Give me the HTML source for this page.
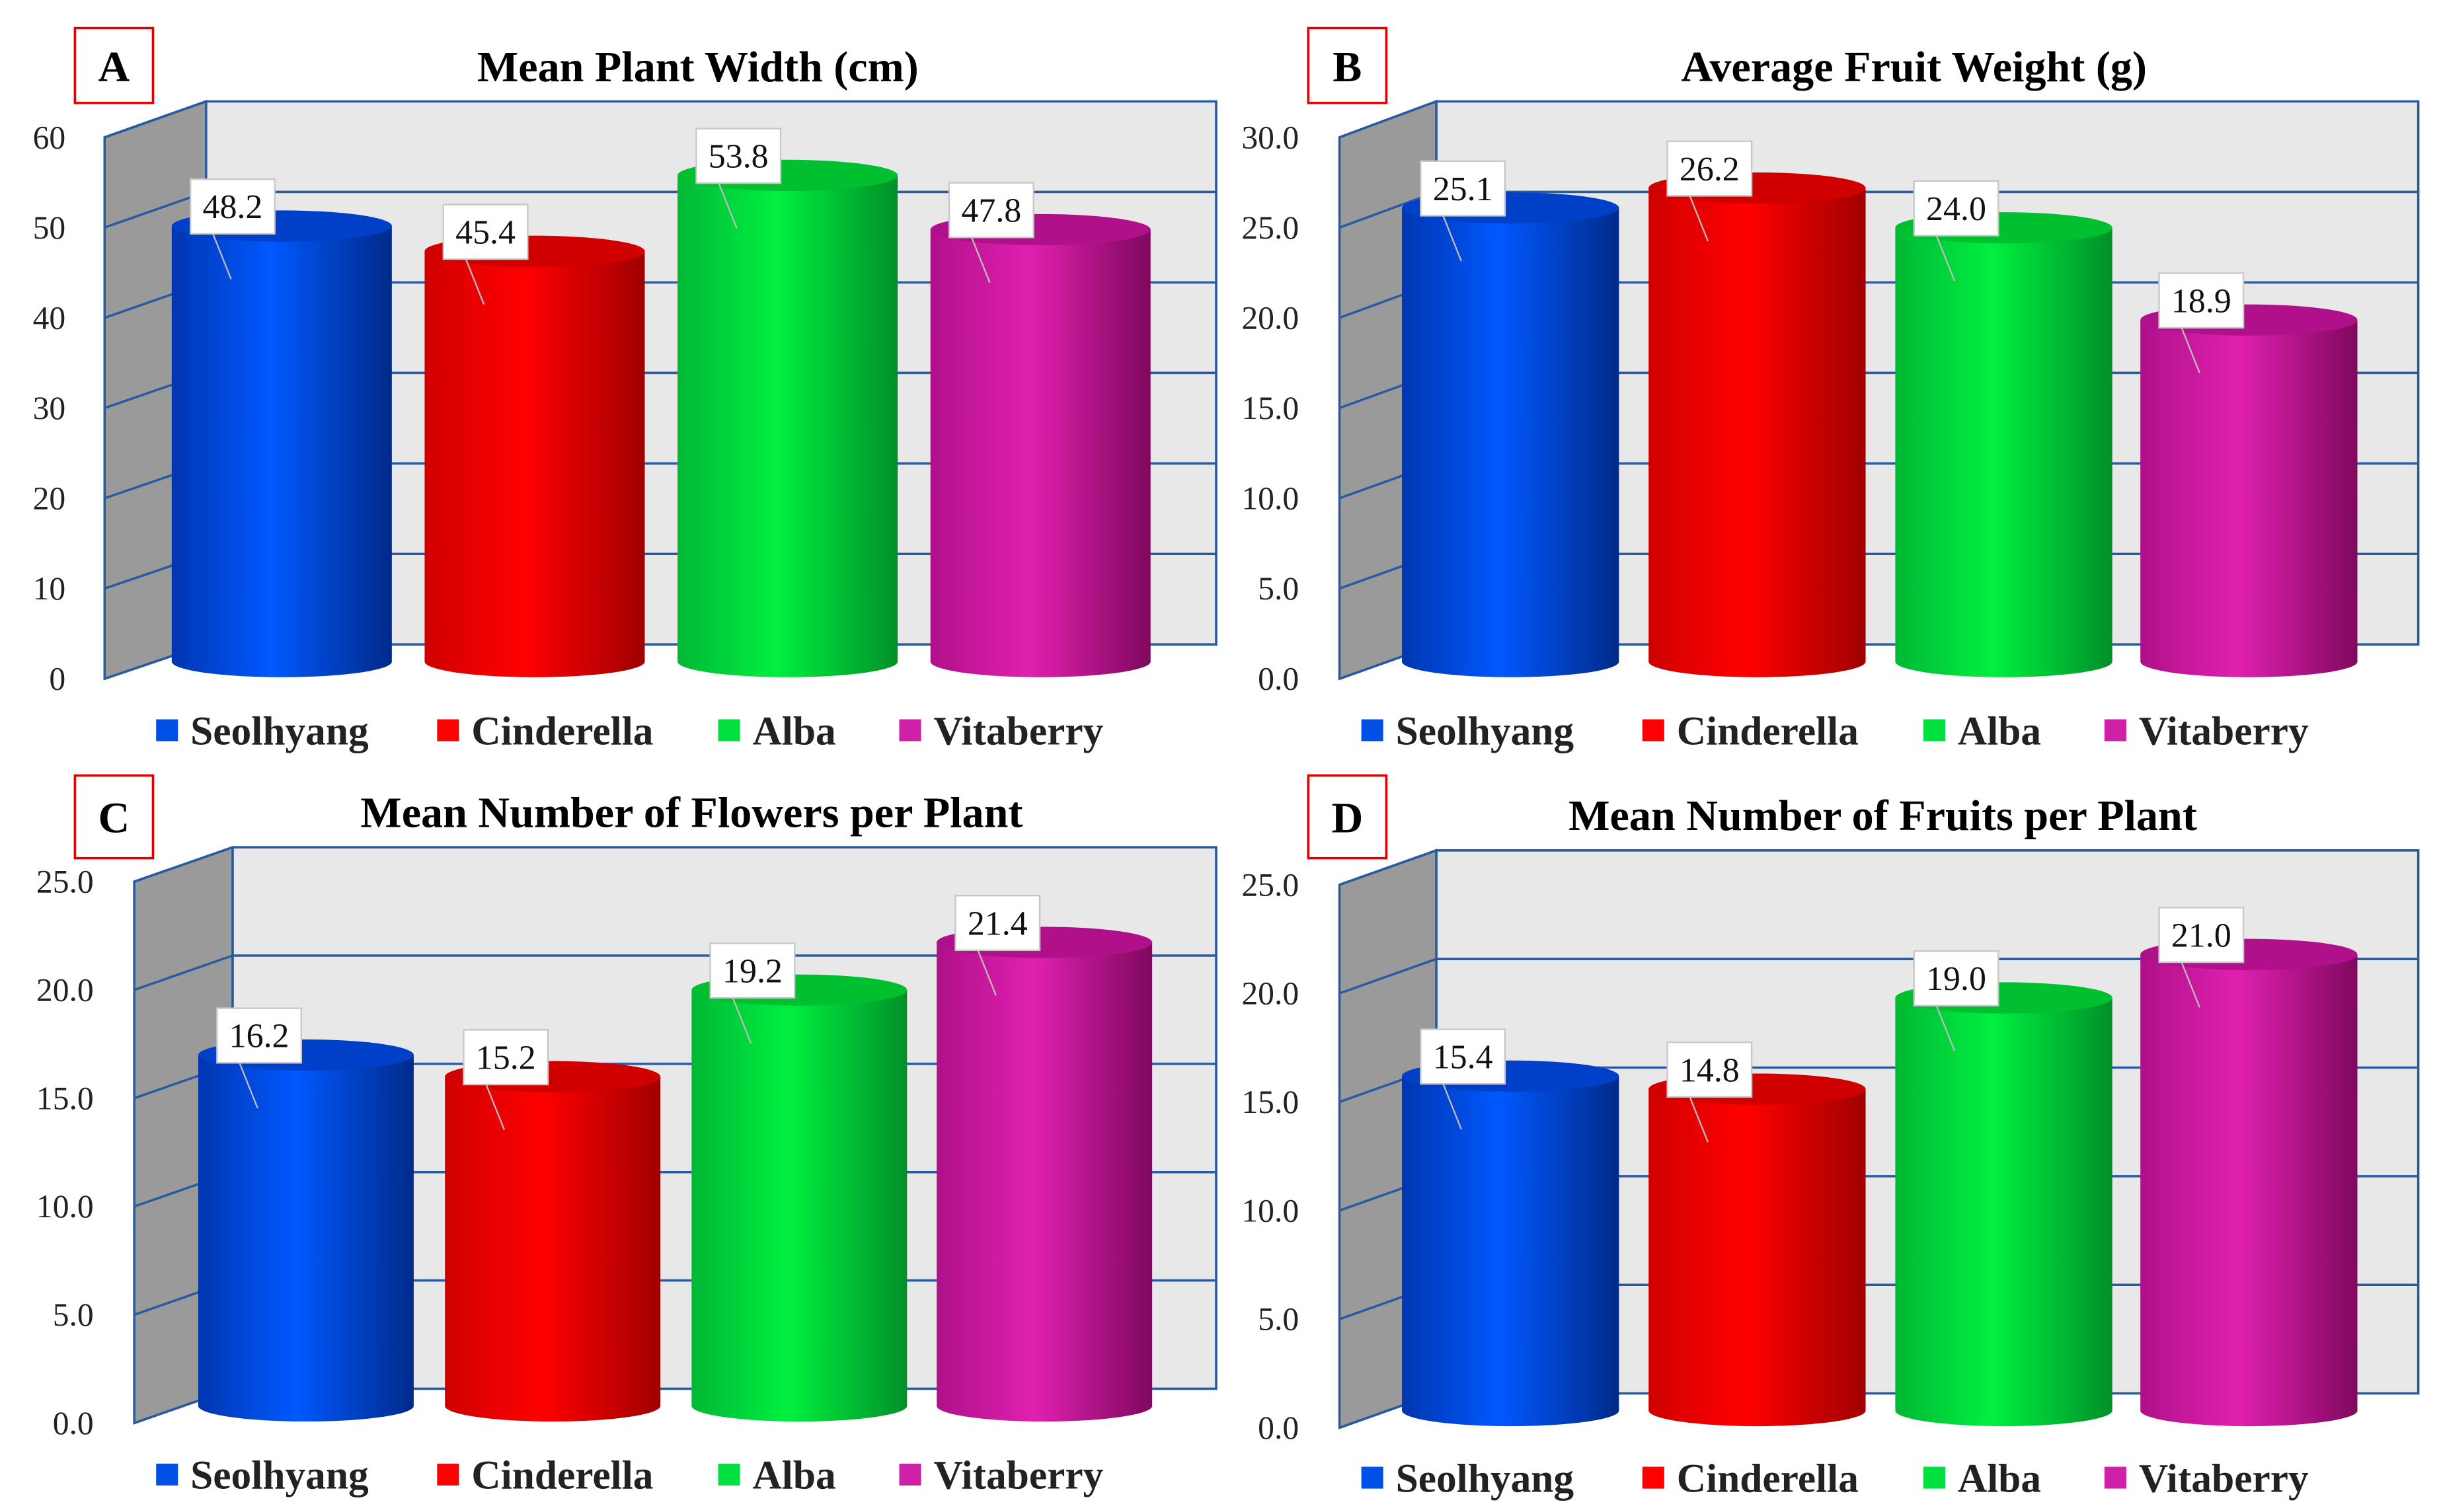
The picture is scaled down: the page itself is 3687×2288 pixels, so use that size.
<!DOCTYPE html>
<html><head><meta charset="utf-8"><style>
html,body{margin:0;padding:0;background:#fff;}
svg{display:block;}
text{font-family:"Liberation Serif",serif;}
</style></head><body>
<svg id="chart" width="3687" height="2288" viewBox="0 0 1561 969" preserveAspectRatio="none" xmlns="http://www.w3.org/2000/svg">
<defs>
<linearGradient id="g0" x1="0" x2="1"><stop offset="0" stop-color="#0036b0"/><stop offset="0.45" stop-color="#0058ff"/><stop offset="1" stop-color="#002a8a"/></linearGradient>
<linearGradient id="g1" x1="0" x2="1"><stop offset="0" stop-color="#d00000"/><stop offset="0.45" stop-color="#ff0000"/><stop offset="1" stop-color="#a00000"/></linearGradient>
<linearGradient id="g2" x1="0" x2="1"><stop offset="0" stop-color="#00b835"/><stop offset="0.45" stop-color="#00f040"/><stop offset="1" stop-color="#009028"/></linearGradient>
<linearGradient id="g3" x1="0" x2="1"><stop offset="0" stop-color="#b0108a"/><stop offset="0.45" stop-color="#e020b0"/><stop offset="1" stop-color="#80085e"/></linearGradient>
</defs>
</svg>
<script>
const categories = ["Seolhyang","Cinderella","Alba","Vitaberry"];
const widthValues = [48.2,45.4,53.8,47.8];
const weightValues = [25.1,26.2,24.0,18.9];
const flowerValues = [16.2,15.2,19.2,21.4];
const fruitValues = [15.4,14.8,19.0,21.0];
const widthTicks = ["0","10","20","30","40","50","60"];
const weightTicks = ["0.0","5.0","10.0","15.0","20.0","25.0","30.0"];
const flowerTicks = ["0.0","5.0","10.0","15.0","20.0","25.0"];
const fruitTicks = ["0.0","5.0","10.0","15.0","20.0","25.0"];
const titles = ["Mean Plant Width (cm)","Average Fruit Weight (g)","Mean Number of Flowers per Plant","Mean Number of Fruits per Plant"];
const letters = ["A","B","C","D"];

const svg = document.getElementById('chart');
const NS = "http://www.w3.org/2000/svg";
const topCols = ["#0040c8","#d00000","#00c030","#b0108a"];
const legCols = ["#0050e8","#ff0000","#00e040","#d020a8"];
function mk(tag, attrs, parent){const e=document.createElementNS(NS,tag);for(const k in attrs)e.setAttribute(k,attrs[k]);(parent||svg).appendChild(e);return e;}

const panels = [
 {values:widthValues,ticks:widthTicks,max:60,lx:48,ly:18,lh:48,tx:447,ty:43,fx:67,bx:132,br:779,bt:65,bb:413,ft:88,fb:435,tickX:42,bars:[110,272,434,596],bw:141,legY:468,legX:[100,280,460,576]},
 {values:weightValues,ticks:weightTicks,max:30,lx:838,ly:18,lh:48,tx:1226,ty:43,fx:858,bx:920,br:1549,bt:65,bb:413,ft:88,fb:435,tickX:832,bars:[898,1056,1214,1371],bw:139,legY:468,legX:[872,1052,1232,1348]},
 {values:flowerValues,ticks:flowerTicks,max:25,lx:48,ly:497,lh:53,tx:443,ty:521,fx:86,bx:149,br:779,bt:543,bb:890,ft:565,fb:912,tickX:60,bars:[127,285,443,600],bw:138,legY:945,legX:[100,280,460,576]},
 {values:fruitValues,ticks:fruitTicks,max:25,lx:838,ly:497,lh:53,tx:1206,ty:523,fx:858,bx:920,br:1549,bt:545,bb:893,ft:567,fb:915,tickX:832,bars:[898,1056,1214,1371],bw:139,legY:947,legX:[872,1052,1232,1348]}
];

panels.forEach((p,pi)=>{
  const g = mk('g',{});
  
  
  const blue="#2a5aa0";
  const bw = mk('rect',{x:p.bx,y:p.bt,width:p.br-p.bx,height:p.bb-p.bt,fill:"#e8e8e8",stroke:blue,'stroke-width':1.5},g);
  
  
  const lw = mk('polygon',{points:`${p.fx},${p.ft} ${p.bx},${p.bt} ${p.bx},${p.bb} ${p.fx},${p.fb}`,fill:"#9a9a9a",stroke:blue,'stroke-width':1.5},g);
  
  
  const n = p.ticks.length-1;
  p.ticks.forEach((t,i)=>{
    const yb = p.bb-(p.bb-p.bt)*i/n, yf = p.fb-(p.fb-p.ft)*i/n;
    if(i>0&&i<n){
      const gl = mk('line',{x1:p.bx,y1:yb,x2:p.br,y2:yb,stroke:blue,'stroke-width':1.5},g);
      
      
    }
    const sl = mk('line',{x1:p.fx,y1:yf,x2:p.bx,y2:yb,stroke:blue,'stroke-width':1.5},g);
    
    
    const tl = mk('text',{x:p.tickX,y:yf+7,'text-anchor':'end','font-size':21,fill:'#222'},g);
    tl.textContent=t;
    
    
  });
  const base = (p.fb+p.bb)/2, topMax = (p.ft+p.bt)/2;
  const yScale = v => base - (base - topMax)*v/p.max;
  const rx = p.bw/2, ry = 10;
  p.values.forEach((v,i)=>{
    const x=p.bars[i], cx=x+rx, y0=yScale(0), y1=yScale(v);
    const bg = mk('g',{},g);
    
    
    mk('path',{d:`M${x},${y1} L${x},${y0} A${rx},${ry} 0 0 0 ${x+p.bw},${y0} L${x+p.bw},${y1} Z`,fill:`url(#g${i})`},bg);
    mk('ellipse',{cx:cx,cy:y1,rx:rx,ry:ry,fill:topCols[i]},bg);
    const lbx=x+12, lby=y1-30;
    const ll = mk('line',{x1:lbx+2,y1:lby+4,x2:lbx+26,y2:lby+64,stroke:'#bbb','stroke-width':1},bg);
    
    
    mk('rect',{x:lbx,y:lby,width:54,height:35,fill:'#fff',stroke:'#c8c8c8','stroke-width':1},bg);
    const vt = mk('text',{x:lbx+27,y:lby+25,'text-anchor':'middle','font-size':22,fill:'#111'},bg);
    vt.textContent=v.toFixed(1);
    
    
  });
  const lb = mk('rect',{x:p.lx,y:p.ly,width:50,height:p.lh,fill:'#fff',stroke:'#e00000','stroke-width':1.5},g);
  
  
  const lt = mk('text',{x:p.lx+25,y:p.ly+p.lh/2+10,'text-anchor':'middle','font-size':28,'font-weight':'bold',fill:'#000'},g);
  lt.textContent=letters[pi];
  
  
  const tt = mk('text',{x:p.tx,y:p.ty+9,'text-anchor':'middle','font-size':28,'font-weight':'bold',fill:'#000'},g);
  tt.textContent=titles[pi];
  
  
  categories.forEach((c,i)=>{
    const le = mk('g',{},g);
    
    
    mk('rect',{x:p.legX[i],y:p.legY-7,width:14,height:14,fill:legCols[i]},le);
    const tx = mk('text',{x:p.legX[i]+22,y:p.legY+9,'font-size':26,'font-weight':'bold',fill:'#222'},le);
    tx.textContent=c;
  });
});
</script>
</body></html>
